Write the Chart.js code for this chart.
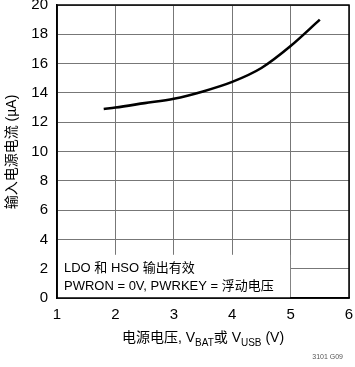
<!DOCTYPE html>
<html lang="zh">
<head>
<meta charset="UTF-8">
<title>输入电源电流 vs 电源电压</title>
<script src="https://cdn.jsdelivr.net/npm/chart.js"></script>
<style>
  html, body { margin: 0; padding: 0; background: #fff; }
  #wrap { width: 355px; height: 367px; position: relative; }
</style>
</head>
<body>
<div id="wrap"><canvas id="chart" width="355" height="367"></canvas></div>
<script>
// supply voltage (V) and input supply current (uA)
const voltage = [1.8, 2.0, 2.5, 3.0, 3.5, 4.0, 4.5, 5.0, 5.5];
const current = [12.9, 13.0, 13.3, 13.6, 14.1, 14.75, 15.7, 17.2, 19.0];

const xTicks = [1, 2, 3, 4, 5, 6];
const yTicks = [0, 2, 4, 6, 8, 10, 12, 14, 16, 18, 20];

const noteLines = ['LDO 和 HSO 输出有效', 'PWRON = 0V, PWRKEY = 浮动电压'];

const FONT = '"Liberation Sans", "Noto Sans CJK SC", sans-serif';

// white note box over the grid, frame, titles with subscripts
const decorations = {
  id: 'decorations',
  beforeDatasetsDraw(chart) {
    const { ctx, scales: { x, y } } = chart;
    ctx.save();
    ctx.fillStyle = '#fff';
    const l = x.getPixelForValue(1), r = x.getPixelForValue(5);
    const t = y.getPixelForValue(2.95), b = y.getPixelForValue(0);
    ctx.fillRect(l + 1, t, r - l - 1.5, b - t);
    ctx.fillStyle = '#000';
    ctx.font = '13px ' + FONT;
    ctx.textBaseline = 'middle';
    ctx.fillText(noteLines[0], 64, 268);
    ctx.fillText(noteLines[1], 64, 286);
    ctx.restore();
  },
  afterDraw(chart) {
    const { ctx, chartArea: a } = chart;
    ctx.save();
    ctx.strokeStyle = '#000';
    ctx.lineWidth = 1.5;
    ctx.strokeRect(a.left, a.top, a.right - a.left, a.bottom - a.top);

    // y title
    ctx.translate(12, 152);
    ctx.rotate(-Math.PI / 2);
    ctx.font = '14px ' + FONT;
    ctx.textAlign = 'center';
    ctx.textBaseline = 'middle';
    ctx.fillStyle = '#000';
    ctx.fillText('输入电源电流 (µA)', 0, 0);
    ctx.setTransform(1, 0, 0, 1, 0, 0);

    // x title with subscripts
    const parts = [
      ['电源电压, V', 14, 0], ['BAT', 10, 4], ['或 V', 14, 0], ['USB', 10, 4], [' (V)', 14, 0]
    ];
    let w = 0;
    parts.forEach(p => { ctx.font = p[1] + 'px ' + FONT; w += ctx.measureText(p[0]).width; });
    let cx = 203 - w / 2;
    ctx.textAlign = 'left';
    ctx.textBaseline = 'alphabetic';
    parts.forEach(p => {
      ctx.font = p[1] + 'px ' + FONT;
      ctx.fillText(p[0], cx, 342 + p[2]);
      cx += ctx.measureText(p[0]).width;
    });

    ctx.font = '7px ' + FONT;
    ctx.fillStyle = '#555';
    ctx.textAlign = 'right';
    ctx.fillText('3101 G09', 343, 359);
    ctx.restore();
  }
};

new Chart(document.getElementById('chart'), {
  type: 'line',
  data: {
    datasets: [{
      data: voltage.map((v, i) => ({ x: v, y: current[i] })),
      borderColor: '#000',
      borderWidth: 2.6,
      pointRadius: 0,
      fill: false,
      cubicInterpolationMode: 'monotone'
    }]
  },
  options: {
    responsive: false,
    animation: false,
    layout: { padding: { top: 5, right: 6, left: 0, bottom: 0 } },
    plugins: { legend: { display: false }, tooltip: { enabled: false } },
    scales: {
      x: {
        type: 'linear', min: 1, max: 6,
        afterBuildTicks: s => { s.ticks = xTicks.map(v => ({ value: v })); },
        afterFit: s => { s.height = 69; s.paddingLeft = 0; s.paddingRight = 0; },
        grid: { color: '#777', lineWidth: 1, drawTicks: false },
        border: { color: '#000', width: 1.5 },
        ticks: { color: '#000', padding: 8, font: { family: FONT, size: 15 } }
      },
      y: {
        min: 0, max: 20,
        afterBuildTicks: s => { s.ticks = yTicks.map(v => ({ value: v })); },
        afterFit: s => { s.width = 57; s.paddingTop = 0; s.paddingBottom = 0; },
        grid: { color: '#777', lineWidth: 1, drawTicks: false },
        border: { color: '#000', width: 1.5 },
        ticks: { color: '#000', padding: 9, font: { family: FONT, size: 15 } }
      }
    }
  },
  plugins: [decorations]
});
</script>
</body>
</html>
